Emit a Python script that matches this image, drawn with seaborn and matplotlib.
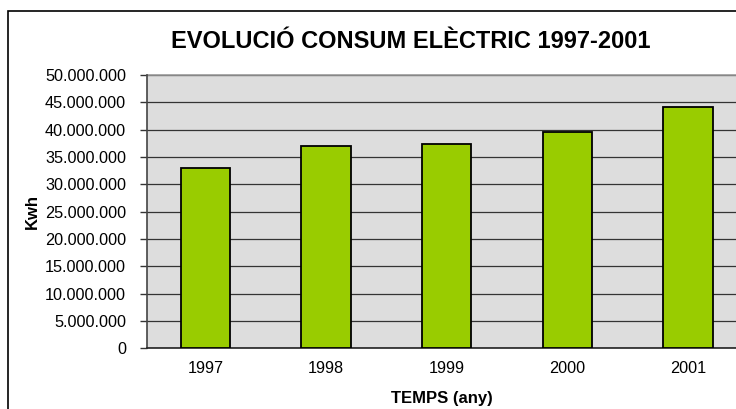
import numpy as np
import matplotlib
matplotlib.use("Agg")
import matplotlib.pyplot as plt
import seaborn as sns
import pandas as pd
from matplotlib.ticker import FuncFormatter, FixedLocator

# dades del gràfic
anys = ["1997", "1998", "1999", "2000", "2001"]
consum_kwh = [33000000, 37100000, 37400000, 39500000, 44100000]
y_ticks = list(range(0, 50000001, 5000000))

df = pd.DataFrame({"any": anys, "kwh": consum_kwh})

sns.set_style("white")
plt.rcParams["font.family"] = ["Liberation Sans", "DejaVu Sans"]
plt.rcParams["text.color"] = "black"
plt.rcParams["axes.labelcolor"] = "black"
plt.rcParams["xtick.color"] = "black"
plt.rcParams["ytick.color"] = "black"

fig = plt.figure(figsize=(7.36, 4.09), dpi=100)
ax = fig.add_axes([147 / 736, 1 - 348.3 / 409, 1 - 147 / 736, (348.3 - 75) / 409])
ax.set_facecolor("#DDDDDD")

sns.barplot(data=df, x="any", y="kwh", color="#99CC00", edgecolor="black",
            linewidth=1.3, width=0.41, saturation=1, ax=ax, zorder=3)

ax.set_xlim(-0.485, (736 - 147) / 120.6 - 0.485)
ax.set_ylim(0, 50000000)
ax.set_yticks(y_ticks)
ax.yaxis.set_major_formatter(FuncFormatter(lambda v, p: f"{int(v):,}".replace(",", ".")))
ax.grid(axis="y", color="#333333", linewidth=0.9, zorder=1)
ax.set_axisbelow(True)

# marques de categoria entre barres
ax.xaxis.set_minor_locator(FixedLocator(np.arange(0.5, len(anys), 1.0)))
ax.tick_params(axis="x", which="major", length=0, pad=9, labelsize=11.7)
ax.tick_params(axis="x", which="minor", length=4, width=1, color="#333333", direction="out")
ax.tick_params(axis="y", which="major", length=5, width=1, color="#333333",
               direction="out", labelsize=11.7, pad=10, left=True)

for side in ["top", "right"]:
    ax.spines[side].set_visible(False)
ax.spines["left"].set_color("#444444")
ax.spines["left"].set_linewidth(1.2)
ax.spines["bottom"].set_color("#222222")
ax.spines["bottom"].set_linewidth(1.2)
ax.axhline(50000000, color="#999999", linewidth=1.2, zorder=2, clip_on=False)

ax.set_xlabel("TEMPS (any)", fontsize=12, fontweight="bold", labelpad=11)
ax.set_ylabel("Kwh", fontsize=12, fontweight="bold", labelpad=4)

fig.text(411 / 736, 1 - 42 / 409, "EVOLUCIÓ CONSUM ELÈCTRIC 1997-2001",
         ha="center", va="center", fontsize=17, fontweight="bold")

# marc exterior del gràfic
marc = plt.Rectangle((8 / 736, -0.05), 1.1, 1.05 - 11.5 / 409, transform=fig.transFigure,
                     fill=False, edgecolor="black", linewidth=1.2)
fig.add_artist(marc)

fig.savefig("out.png", dpi=100, facecolor="white")
